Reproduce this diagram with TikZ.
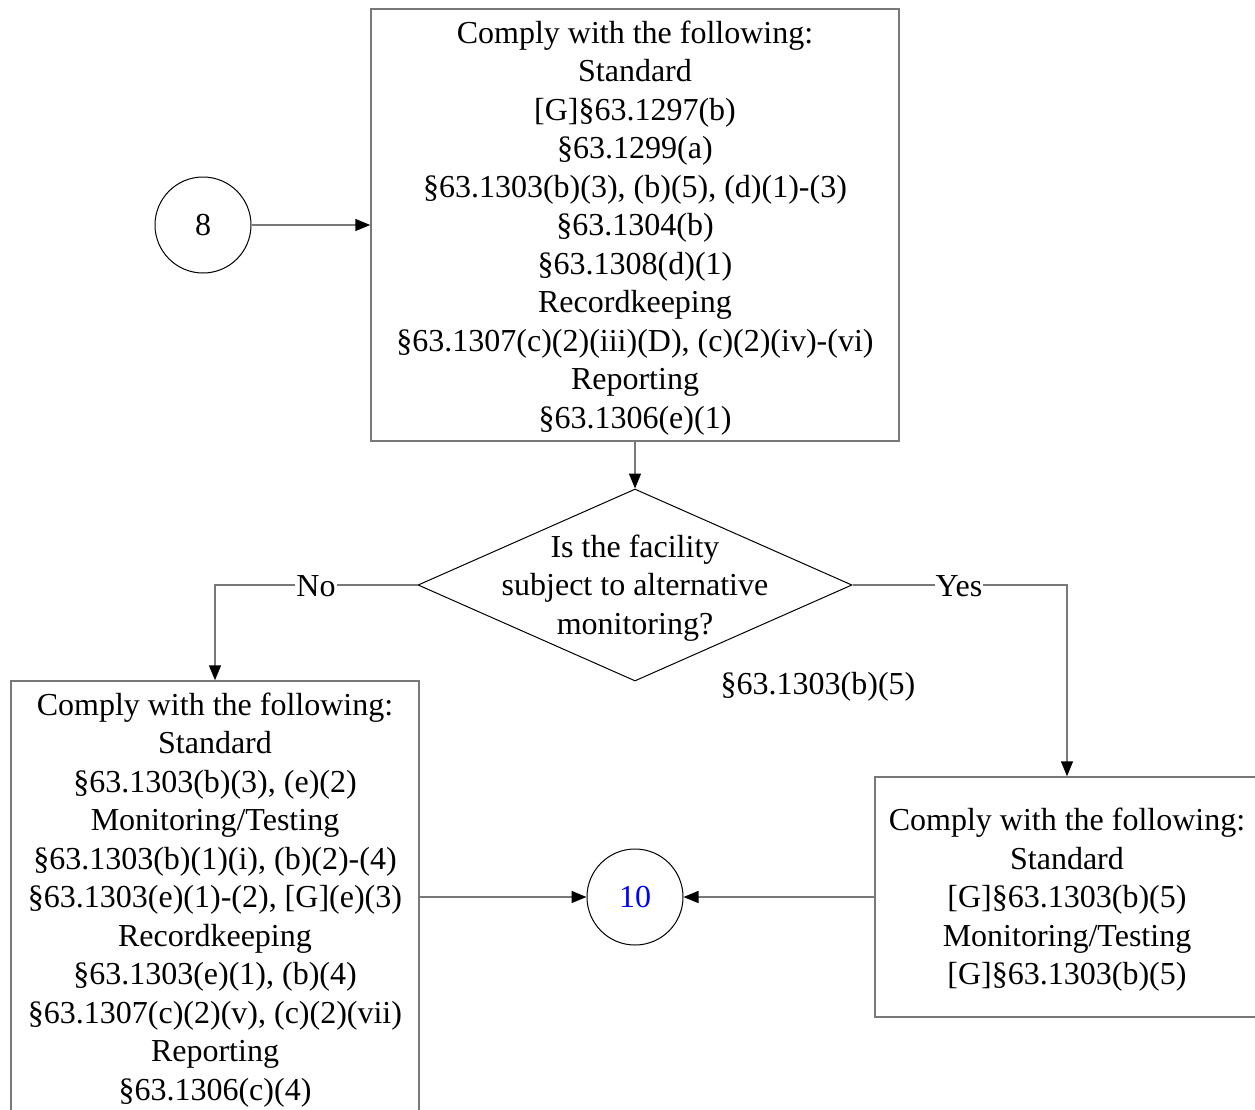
\documentclass[tikz,border=0pt]{standalone}
\usepackage{fontspec}
\setmainfont{Liberation Serif}
\usetikzlibrary{arrows.meta,shapes.geometric}
\definecolor{linegray}{RGB}{120,120,120}
\tikzset{
  txt/.style={font=\fontsize{32}{38.5}\selectfont, align=center},
  box/.style={draw=linegray, line width=1.5pt, inner sep=0pt},
  circ/.style={txt, draw=black, line width=1pt, circle, minimum size=96pt, inner sep=0pt},
  conn/.style={draw=linegray, line width=1.5pt, -{Triangle[length=15pt,width=12pt,fill=black,color=black]}},
  lab/.style={txt, fill=white, inner sep=1pt}
}
\begin{document}
\begin{tikzpicture}[x=1pt,y=-1pt]
\useasboundingbox (0,0) rectangle (1255,1109);
\clip (0,0) rectangle (1255,1109);
\node[box, minimum width=528pt, minimum height=432pt] (top) at (635,225) {};
\node[txt] (toptxt) at (635,228) {Comply with the following:\\Standard\\{[G]}§63.1297(b)\\§63.1299(a)\\§63.1303(b)(3), (b)(5), (d)(1)-(3)\\§63.1304(b)\\§63.1308(d)(1)\\Recordkeeping\\§63.1307(c)(2)(iii)(D), (c)(2)(iv)-(vi)\\Reporting\\§63.1306(e)(1)};
\node[circ] (c8) at (203,225) {8};
\node[diamond, draw=black, line width=1pt, minimum width=434pt, minimum height=192pt, inner sep=0pt] (dec) at (635,585) {};
\node[txt] (dectxt) at (635,588) {Is the facility\\subject to alternative\\monitoring?};
\node[box, minimum width=408pt, minimum height=432pt] (left) at (215,897) {};
\node[txt] (lefttxt) at (215,900) {Comply with the following:\\Standard\\§63.1303(b)(3), (e)(2)\\Monitoring/Testing\\§63.1303(b)(1)(i), (b)(2)-(4)\\§63.1303(e)(1)-(2), {[G]}(e)(3)\\Recordkeeping\\§63.1303(e)(1), (b)(4)\\§63.1307(c)(2)(v), (c)(2)(vii)\\Reporting\\§63.1306(c)(4)};
\node[box, minimum width=384pt, minimum height=240pt] (right) at (1067,897) {};
\node[txt] (righttxt) at (1067,900) {Comply with the following:\\Standard\\{[G]}§63.1303(b)(5)\\Monitoring/Testing\\{[G]}§63.1303(b)(5)};
\node[circ, text=blue] (c10) at (635,897) {10};
\node[txt] (ref) at (818,687) {§63.1303(b)(5)};
\coordinate (nocorner) at (215,585);
\coordinate (yescorner) at (1067,585);
\draw[conn] (c8.east) -- (top.west);
\draw[conn] (top.south) -- (dec.north);
\draw[conn] (dec.west) -- (nocorner) -- (left.north);
\draw[conn] (dec.east) -- (yescorner) -- (right.north);
\draw[conn] (left.east) -- (c10.west);
\draw[conn] (right.west) -- (c10.east);
\node[lab] (no) at (316,586) {No};
\node[lab] (yes) at (959,586) {Yes};
\end{tikzpicture}
\end{document}
